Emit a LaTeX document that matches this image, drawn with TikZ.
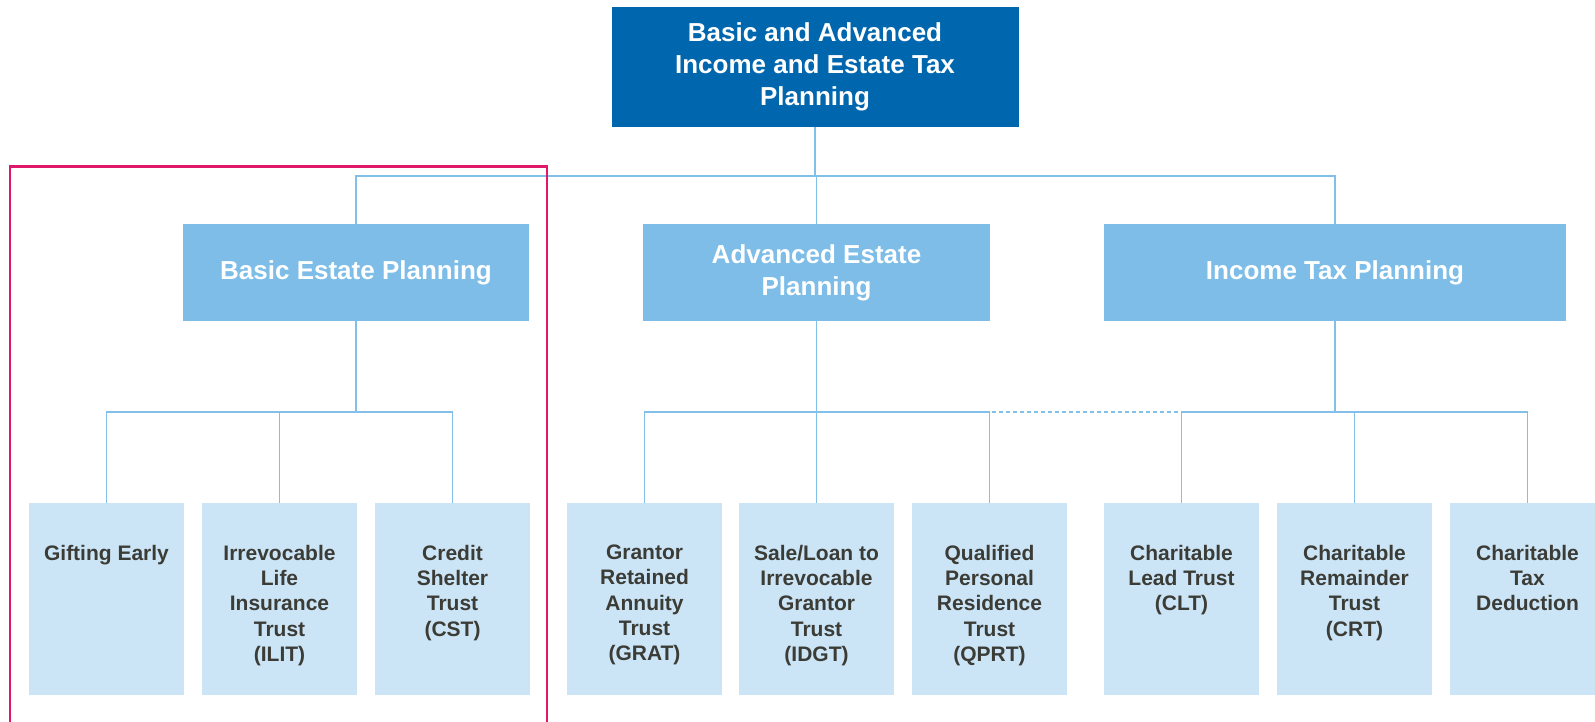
\documentclass[tikz,border=0pt]{standalone}
\usepackage{fontspec}
\setmainfont{Liberation Sans}
\usetikzlibrary{positioning}
\definecolor{topblue}{HTML}{0066AD}
\definecolor{midblue}{HTML}{7DBDE8}
\definecolor{leafblue}{HTML}{CCE5F6}
\definecolor{linkblue}{HTML}{82BFE9}
\definecolor{leafgray}{HTML}{3C3C37}
\definecolor{framered}{HTML}{E0186C}

\begin{document}
\begin{tikzpicture}[x=1pt,y=-1pt,
    every node/.style={inner sep=0pt,outer sep=0pt},
    topbox/.style={fill=topblue,text=white,minimum width=407pt,minimum height=120pt,
        align=center,font=\fontsize{26}{31.7}\selectfont\bfseries},
    midbox/.style={fill=midblue,text=white,minimum height=97pt,
        align=center,font=\fontsize{26}{32}\selectfont\bfseries},
    leafbox/.style={fill=leafblue,minimum width=155pt,minimum height=192pt},
    leaftext/.style={text=leafgray,align=center,font=\fontsize{21}{25.3}\selectfont\bfseries},
    conn/.style={draw=linkblue,line width=1.8pt},
    hint/.style={draw=linkblue,line width=1.8pt,dash pattern=on 4pt off 3pt}]

    \useasboundingbox (0,0) rectangle (1595,722);

    % Define the two bus levels as coordinates
    \coordinate (bus1) at (0,175.7);
    \coordinate (bus2) at (0,411.7);

    % top level
    \node[topbox] (top) at (815,67) {Basic and Advanced\\Income and Estate Tax\\Planning};

    % second level
    \node[midbox,minimum width=346pt] (basic) at (356,272.4) {Basic Estate Planning};
    \node[midbox,minimum width=347pt] (adv) at (816.5,272.4) {Advanced Estate\\Planning};
    \node[midbox,minimum width=462pt] (income) at (1335,272.4) {Income Tax Planning};

    % leaves
    \node[leafbox] (gift) at (106.5,599) {};
    \node[leafbox] (ilit) at (279.5,599) {};
    \node[leafbox] (cst) at (452.5,599) {};
    \node[leafbox] (grat) at (644.5,599) {};
    \node[leafbox] (idgt) at (816.5,599) {};
    \node[leafbox] (qprt) at (989.5,599) {};
    \node[leafbox] (clt) at (1181.5,599) {};
    \node[leafbox] (crt) at (1354.5,599) {};
    \node[leafbox] (ctd) at (1527.5,599) {};

    \node[leaftext,below=42pt of gift.north] (giftT) {Gifting Early};
    \node[leaftext,below=42pt of ilit.north] (ilitT) {Irrevocable\\Life\\Insurance\\Trust\\(ILIT)};
    \node[leaftext,below=42pt of cst.north] (cstT) {Credit\\Shelter\\Trust\\(CST)};
    \node[leaftext,below=42pt of grat.north] (gratT) {Grantor\\Retained\\Annuity\\Trust\\(GRAT)};
    \node[leaftext,below=42pt of idgt.north] (idgtT) {Sale/Loan to\\Irrevocable\\Grantor\\Trust\\(IDGT)};
    \node[leaftext,below=42pt of qprt.north] (qprtT) {Qualified\\Personal\\Residence\\Trust\\(QPRT)};
    \node[leaftext,below=42pt of clt.north] (cltT) {Charitable\\Lead Trust\\(CLT)};
    \node[leaftext,below=42pt of crt.north] (crtT) {Charitable\\Remainder\\Trust\\(CRT)};
    \node[leaftext,below=42pt of ctd.north] (ctdT) {Charitable\\Tax\\Deduction};

    % first bus
    \draw[conn] (top.south) -- (top.south |- bus1);
    \draw[conn] (basic.north) -- (basic.north |- bus1) -- (income.north |- bus1) -- (income.north);
    \draw[conn] (adv.north) -- (adv.north |- bus1);

    % basic estate planning
    \draw[conn] (basic.south) -- (basic.south |- bus2);
    \draw[conn] (gift.north) -- (gift.north |- bus2) -- (cst.north |- bus2) -- (cst.north);
    \draw[conn] (ilit.north) -- (ilit.north |- bus2);

    % advanced estate planning
    \draw[conn] (adv.south) -- (adv.south |- bus2);
    \draw[conn] (grat.north) -- (grat.north |- bus2) -- (qprt.north |- bus2) -- (qprt.north);
    \draw[conn] (idgt.north) -- (idgt.north |- bus2);

    % income tax planning
    \draw[conn] (income.south) -- (income.south |- bus2);
    \draw[conn] (clt.north) -- (clt.north |- bus2) -- (ctd.north |- bus2) -- (ctd.north);
    \draw[conn] (crt.north) -- (crt.north |- bus2);

    % dashed link from advanced planning to the lead trust
    \draw[hint] (idgt.north |- bus2) -- (clt.north |- bus2) -- (clt.north);

    % highlight frame
    \draw[draw=framered,line width=2.5pt] (10,166.7) rectangle (547,740);

\end{tikzpicture}
\end{document}
